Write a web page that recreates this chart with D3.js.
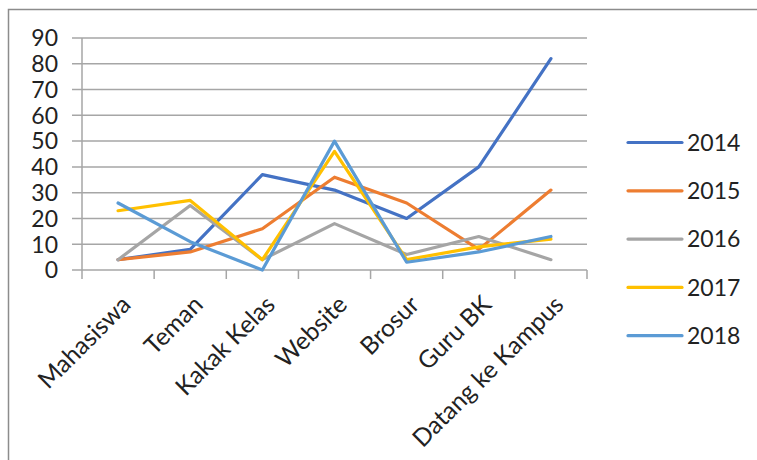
<!DOCTYPE html>
<meta charset="utf-8"/>
<style>
  body { margin: 0; background: #fff; }
  svg text { font-family: Lato, "Liberation Sans", Arial, sans-serif; fill: #222; }
  .grid line { stroke: #a6a6a6; stroke-width: 1.5px; }
  .series path { fill: none; stroke-width: 3.2px; stroke-linejoin: round; stroke-linecap: round; }
</style>
<svg width="757" height="460"></svg>
<script src="https://d3js.org/d3.v7.min.js"></script>
<script>

  // data
  var categories = ["Mahasiswa", "Teman", "Kakak Kelas", "Website", "Brosur", "Guru BK", "Datang ke Kampus"];
  var years = ["2014", "2015", "2016", "2017", "2018"];
  var v2014 = [4, 8, 37, 31, 20, 40, 82];
  var v2015 = [4, 7, 16, 36, 26, 8, 31];
  var v2016 = [4, 25, 4, 18, 6, 13, 4];
  var v2017 = [23, 27, 4, 46, 4, 9, 12];
  var v2018 = [26, 11, 0, 50, 3, 7, 13];
  var yTicks = [0, 10, 20, 30, 40, 50, 60, 70, 80, 90];
  var colors = ["#4472C4", "#ED7D31", "#A5A5A5", "#FFC000", "#5B9BD5"];

  var series = years.map(function (y, i) {
    return { name: y, values: [v2014, v2015, v2016, v2017, v2018][i], color: colors[i] };
  });

  var svg = d3.select("svg");

  // outer chart frame (only top & left visible in the crop)
  svg.append("path")
    .attr("d", "M8.5,460V9.5H757")
    .attr("fill", "none")
    .attr("stroke", "#8c8c8c")
    .attr("stroke-width", 1.5);

  var x = d3.scaleBand().domain(categories).range([82, 587]);
  var y = d3.scaleLinear().domain([0, 90]).range([270, 38]);

  // horizontal gridlines
  var grid = svg.append("g").attr("class", "grid");
  grid.selectAll("line").data(yTicks).enter().append("line")
    .attr("x1", 72).attr("x2", 587)
    .attr("y1", function (d) { return y(d); })
    .attr("y2", function (d) { return y(d); });

  // vertical axis line
  grid.append("line").attr("x1", 82).attr("x2", 82).attr("y1", y(90)).attr("y2", 270);

  // category tick marks
  grid.selectAll(".xt").data(categories.concat(["end"])).enter().append("line")
    .attr("class", "xt")
    .attr("x1", function (d, i) { return 82 + i * x.bandwidth(); })
    .attr("x2", function (d, i) { return 82 + i * x.bandwidth(); })
    .attr("y1", 270).attr("y2", 279);

  // y labels
  svg.append("g").selectAll("text").data(yTicks).enter().append("text")
    .attr("x", 58)
    .attr("y", function (d) { return y(d); })
    .attr("dy", "0.36em")
    .attr("text-anchor", "end")
    .style("font-size", "23px")
    .text(function (d) { return d; });

  // x labels, rotated
  svg.append("g").selectAll("text").data(categories).enter().append("text")
    .attr("transform", function (d) {
      return "translate(" + (x(d) + x.bandwidth() / 2 + 2) + ",294) rotate(-45)";
    })
    .attr("text-anchor", "end")
    .attr("dy", "0.7em")
    .style("font-size", "24.5px")
    .text(function (d) { return d; });

  var line = d3.line()
    .x(function (d, i) { return x(categories[i]) + x.bandwidth() / 2; })
    .y(function (d) { return y(d); });

  svg.append("g").attr("class", "series").selectAll("path")
    .data(series).enter().append("path")
    .attr("stroke", function (d) { return d.color; })
    .attr("d", function (d) { return line(d.values); });

  // legend
  var legend = svg.append("g").selectAll("g").data(series).enter().append("g")
    .attr("transform", function (d, i) { return "translate(628," + (142.5 + i * 48.3) + ")"; });

  legend.append("line")
    .attr("x1", 0).attr("x2", 54)
    .attr("stroke", function (d) { return d.color; })
    .attr("stroke-width", 3.2)
    .attr("stroke-linecap", "round");

  legend.append("text")
    .attr("x", 59)
    .attr("dy", "0.36em")
    .style("font-size", "23px")
    .text(function (d) { return d.name; });

</script>
